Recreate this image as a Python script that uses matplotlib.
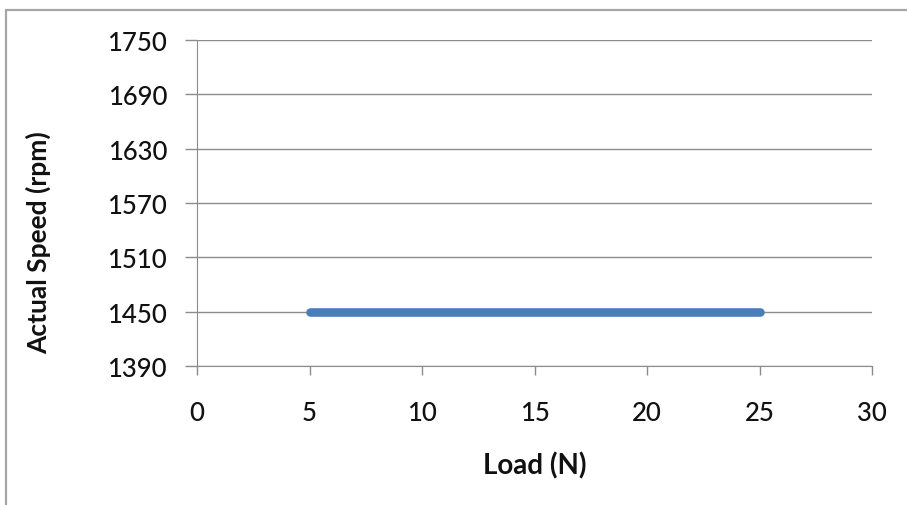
import matplotlib.pyplot as plt
from matplotlib.patches import Rectangle

# data
load = [5, 10, 15, 20, 25]
speed = [1450, 1450, 1450, 1450, 1450]
x_ticks = [0, 5, 10, 15, 20, 25, 30]
y_ticks = [1390, 1450, 1510, 1570, 1630, 1690, 1750]

W, H = 907, 506
plt.rcParams.update(
    {
        "font.family": ["Lato", "DejaVu Sans"],
        "axes.edgecolor": "#8c8c8c",
        "xtick.color": "#8c8c8c",
        "ytick.color": "#8c8c8c",
    }
)

fig = plt.figure(figsize=(W / 100, H / 100), dpi=100)
ax = fig.add_axes([197 / W, 1 - 367 / H, (872 - 197) / W, (367 - 41) / H])

ax.plot(load, speed, color="#4a7ebb", linewidth=6.2, solid_capstyle="round", zorder=3)

ax.set_xlim(0, 30)
ax.set_ylim(1390, 1750)
ax.set_xticks(x_ticks)
ax.set_yticks(y_ticks)
ax.tick_params(axis="x", length=6.5, width=1, pad=18, labelsize=18.5, labelcolor="#111111")
ax.tick_params(axis="y", length=8.5, width=1, pad=13, labelsize=18.5, labelcolor="#111111")
for lbl in ax.get_xticklabels() + ax.get_yticklabels():
    lbl.set_fontweight(500)

ax.spines["top"].set_visible(False)
ax.spines["right"].set_visible(False)
ax.yaxis.grid(True, color="#8c8c8c", linewidth=1)
ax.set_axisbelow(True)

ax.set_xlabel("Load (N)", fontsize=20, fontweight="bold", color="#111111")
ax.set_ylabel("Actual Speed (rpm)", fontsize=19, fontweight="bold", color="#111111")
ax.xaxis.label.set_verticalalignment("center")
ax.yaxis.label.set_verticalalignment("center")
ax.yaxis.set_label_coords((38 - 197) / (872 - 197), 1 - (243 - 41) / (367 - 41))
ax.xaxis.set_label_coords(0.5, -(466 - 367) / (367 - 41))

# outer chart frame
fig.patches.append(
    Rectangle((6 / W, -0.1), 1.2, 1 - 11 / H + 0.1, transform=fig.transFigure,
              fill=False, edgecolor="#a6a6a6", linewidth=1.6)
)

fig.savefig("out.png", dpi=100, facecolor="white")
